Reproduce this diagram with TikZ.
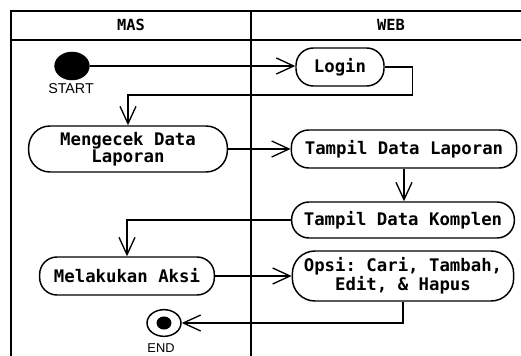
\documentclass[tikz,border=0pt]{standalone}
\usepackage{fontspec}
\setmainfont{Liberation Sans}
\setmonofont{DejaVu Sans Mono}
\usetikzlibrary{arrows.meta,shapes.geometric}

\tikzset{
  aktivitas/.style={draw, line width=1.1pt, rounded corners=13pt, minimum height=28.5pt,
    inner sep=0pt, align=center, font=\ttfamily\bfseries\fontsize{13}{12.8}\selectfont},
  judul/.style={font=\ttfamily\bfseries\fontsize{11.5}{12}\selectfont},
  panah/.style={line width=1pt, -{Straight Barb[length=13pt,width=12pt]}},
  garis/.style={line width=1.5pt}
}

\begin{document}
\begin{tikzpicture}[x=0.75pt,y=-0.75pt]
\useasboundingbox[fill=white] (0,0) rectangle (521,356);

\draw[garis] (11,356) -- (11,11) -- (521,11);
\draw[garis] (11,40) -- (521,40);
\draw[garis] (251,11) -- (251,356);

\node[judul] (mas) at (131,25) {MAS};
\node[judul] (web) at (391,25) {WEB};

\node[draw, fill, ellipse, minimum width=26pt, minimum height=21pt, inner sep=0pt] (mulai) at (72,66) {};
\node[font=\fontsize{10.7}{12}\selectfont] (lmulai) at (71,88.5) {START};

\node[aktivitas, minimum width=66pt] (login) at (340,67) {Login};
\node[aktivitas, minimum width=149pt, minimum height=34.5pt, rounded corners=16pt] (cek) at (128,149) {Mengecek Data\\Laporan};
\node[aktivitas, minimum width=169pt] (tdl) at (404,149) {Tampil Data Laporan};
\node[aktivitas, minimum width=167pt, minimum height=27pt] (tdk) at (403,220) {Tampil Data Komplen};
\node[aktivitas, minimum width=131pt] (aksi) at (127,276) {Melakukan Aksi};
\node[aktivitas, minimum width=166pt, minimum height=37.5pt, rounded corners=17pt] (opsi) at (403,276) {Opsi: Cari, Tambah,\\Edit, \& Hapus};

\node[draw, ellipse, line width=1.1pt, minimum width=25.5pt, minimum height=20pt, inner sep=0pt] (akhir) at (164,323) {};
\fill (akhir.center) ellipse [x radius=5.6pt, y radius=4.9pt];
\node[font=\fontsize{9.6}{12}\selectfont] (lakhir) at (161,348) {END};

\draw[panah] (mulai.east) -- (mulai.east -| login.west);
\draw[panah] (login.east) -- ++(28,0) -- ++(0,28) -| (cek.north);
\draw[panah] (cek.east) -- (tdl.west);
\draw[panah] (tdl.south) -- (tdl.south |- tdk.north);
\draw[panah] (tdk.west) -| (aksi.north);
\draw[panah] (aksi.east) -- (opsi.west);
\draw[panah] (opsi.south) |- (akhir.east);
\end{tikzpicture}
\end{document}
